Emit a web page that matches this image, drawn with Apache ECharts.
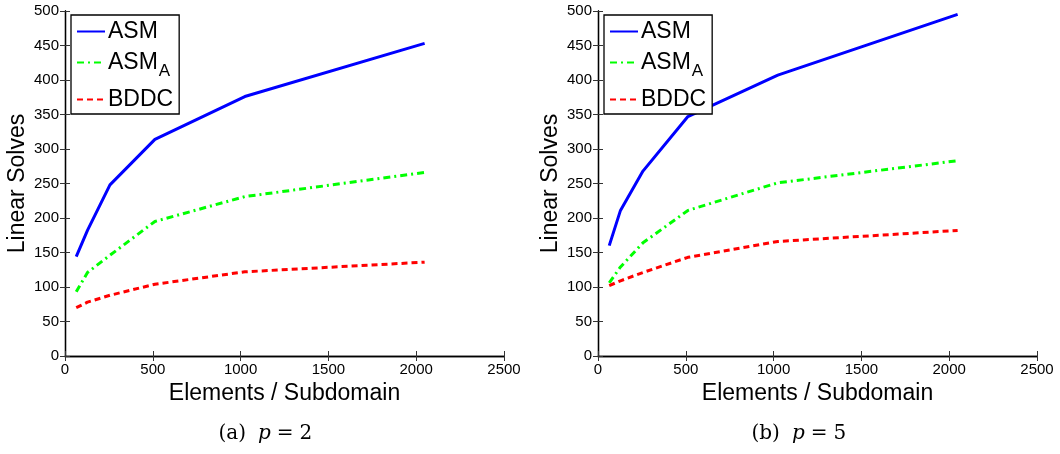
<!DOCTYPE html>
<html>
<head>
<meta charset="utf-8">
<script src="https://cdn.jsdelivr.net/npm/echarts@6/dist/echarts.min.js"></script>
<style>
  html, body { margin: 0; padding: 0; background: #fff; }
  #chart { width: 1060px; height: 454px; }
</style>
</head>
<body>
<div id="chart"></div>
<script>
// elements per subdomain
const elements = [64, 128, 256, 512, 1024, 2048];

// (a) p = 2
const asmP2 = [144, 182, 248, 314, 376, 453];
const asmAP2 = [93, 121, 146, 195, 231, 266];
const bddcP2 = [70, 78, 88, 104, 122, 136];

// (b) p = 5
const asmP5 = [160, 211, 268, 347, 407, 495];
const asmAP5 = [106, 129, 164, 211, 251, 283];
const bddcP5 = [102, 109, 121, 143, 166, 182];

const captions = ['(a)', '(b)'];
const pValues = ['2', '5'];

const font = 'Liberation Sans, Arial, Helvetica, sans-serif';
const serif = 'DejaVu Serif, Liberation Serif, serif';
const gridLeft = [65, 598];

function pairs(ys) {
  return elements.map((x, i) => [x, ys[i]]);
}

const chart = echarts.init(document.getElementById('chart'));

let grids = [], xAxes = [], yAxes = [], series = [], legends = [], graphics = [];

function addPanel(k, asm, asmA, bddc) {
  grids.push({ left: gridLeft[k], top: 11, width: 439, height: 345 });
  // bottom axis
  xAxes.push({
    gridIndex: k, type: 'value', min: 0, max: 2500, interval: 500,
    name: 'Elements / Subdomain', nameLocation: 'middle', nameGap: 26,
    nameTextStyle: { fontFamily: font, fontSize: 23, color: '#000' },
    axisLine: { lineStyle: { color: '#000', width: 1.3 } },
    axisTick: { inside: true, length: 5, lineStyle: { color: '#333' } },
    axisLabel: { fontFamily: font, fontSize: 15, color: '#000', margin: 6, formatter: v => String(v) },
    splitLine: { show: false }
  });
  // top axis (box)
  xAxes.push({
    gridIndex: k, type: 'value', position: 'top', min: 0, max: 2500, interval: 500,
    axisLine: { lineStyle: { color: '#000', width: 1.3 } },
    axisTick: { inside: true, length: 5, lineStyle: { color: '#333' } },
    axisLabel: { show: false }, splitLine: { show: false }
  });
  yAxes.push({
    gridIndex: k, type: 'value', min: 0, max: 500, interval: 50,
    name: 'Linear Solves', nameLocation: 'middle', nameGap: 36, nameRotate: 90,
    nameTextStyle: { fontFamily: font, fontSize: 23, color: '#000' },
    axisLine: { show: true, lineStyle: { color: '#000', width: 1.3 } },
    axisTick: { show: true, inside: true, length: 5, lineStyle: { color: '#333' } },
    axisLabel: { fontFamily: font, fontSize: 15, color: '#000', margin: 6, formatter: v => String(v) },
    splitLine: { show: false }
  });
  yAxes.push({
    gridIndex: k, type: 'value', position: 'right', min: 0, max: 500, interval: 50,
    axisLine: { show: true, lineStyle: { color: '#000', width: 1.3 } },
    axisTick: { show: true, inside: true, length: 5, lineStyle: { color: '#333' } },
    axisLabel: { show: false }, splitLine: { show: false }
  });
  const xi = k * 2, yi = k * 2;
  const common = { type: 'line', xAxisIndex: xi, yAxisIndex: yi, symbol: 'none', animation: false };
  series.push(Object.assign({}, common, {
    name: 'ASM', data: pairs(asm), color: '#0000ff',
    lineStyle: { color: '#0000ff', width: 3 }
  }));
  series.push(Object.assign({}, common, {
    name: 'ASM_A', data: pairs(asmA), color: '#00ff00',
    lineStyle: { color: '#00ff00', width: 3, type: [7, 4, 2, 4] }
  }));
  series.push(Object.assign({}, common, {
    name: 'BDDC', data: pairs(bddc), color: '#ff0000',
    lineStyle: { color: '#ff0000', width: 3, type: [6, 4] }
  }));
  legends.push({
    data: ['ASM', 'ASM_A', 'BDDC'],
    orient: 'vertical',
    left: gridLeft[k] + 6, top: 15,
    padding: [5, 6, 3, 5],
    itemWidth: 28, itemHeight: 14, itemGap: 8,
    itemStyle: { opacity: 0 },
    backgroundColor: '#fff',
    borderColor: '#000', borderWidth: 1.3, borderRadius: 0,
    selectedMode: false,
    formatter: function (name) {
      return name === 'ASM_A' ? '{m|ASM}{s|A}' : '{m|' + name + '}';
    },
    textStyle: {
      fontFamily: font, fontSize: 23, color: '#000', padding: [0, 0, 0, -2],
      rich: {
        m: { fontFamily: font, fontSize: 23, color: '#000', lineHeight: 24 },
        s: { fontFamily: font, fontSize: 17, color: '#000', padding: [18, 0, 0, 1] }
      }
    }
  });
  const cx = gridLeft[k] + 439 / 2 - 20;
  graphics.push({
    type: 'text', left: cx - 46, top: 424,
    style: {
      text: '{n|' + captions[k] + '}{i|p}{e|=}{n|' + pValues[k] + '}',
      rich: {
        n: { fontFamily: serif, fontSize: 20, fill: '#000' },
        i: { fontFamily: serif, fontSize: 20, fontStyle: 'italic', fill: '#000', padding: [0, 0, 0, 12] },
        e: { fontFamily: serif, fontSize: 20, fill: '#000', padding: [0, 6, 0, 6] }
      }
    }
  });
}

addPanel(0, asmP2, asmAP2, bddcP2);
addPanel(1, asmP5, asmAP5, bddcP5);

chart.setOption({
  animation: false,
  backgroundColor: '#fff',
  grid: grids,
  xAxis: xAxes,
  yAxis: yAxes,
  legend: legends,
  series: series,
  graphic: graphics
});
</script>
</body>
</html>
